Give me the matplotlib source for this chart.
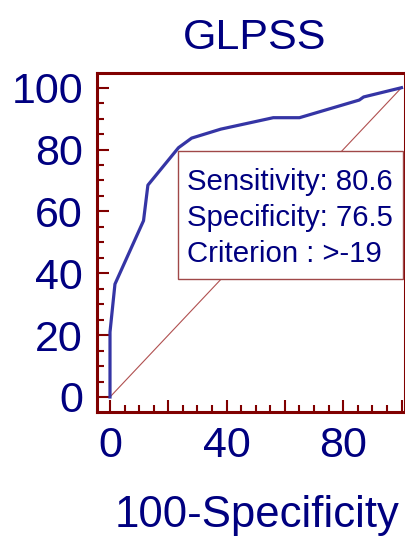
import matplotlib
matplotlib.use("Agg")
import matplotlib.pyplot as plt
from matplotlib.patches import Rectangle
from matplotlib.ticker import FixedLocator

# ROC curve (100-Specificity, Sensitivity)
fpr = [0, 0, 1.7, 11.5, 13, 23.5, 28, 38, 56, 65, 85.5, 87, 100]
tpr = [0, 21, 36.5, 57, 68.5, 80.6, 83.7, 86.6, 90.3, 90.3, 96, 97, 100]
diag = [0, 100]
box_lines = ["Sensitivity: 80.6", "Specificity: 76.5", "Criterion : >-19"]
xtick_labels = [0, 40, 80]
ytick_labels = [0, 20, 40, 60, 80, 100]

plt.rcParams['font.family'] = ['Liberation Sans', 'DejaVu Sans']
navy = "#000080"
maroon = "#800000"

fig = plt.figure(figsize=(4.06, 5.38), dpi=100)
ax = fig.add_axes([97/406, 126/538, 308/406, 339/538])

ax.plot(diag, diag, color="#b05050", lw=0.8, zorder=1)
ax.plot(fpr, tpr, color="#3535a5", lw=2.3, zorder=3, solid_joinstyle="round")

ax.set_xlim(-4.46, 101.2)
ax.set_ylim(-4.85, 104.75)

for s in ax.spines.values():
    s.set_color(maroon)
    s.set_linewidth(2.2)

ax.xaxis.set_major_locator(FixedLocator(xtick_labels))
ax.yaxis.set_major_locator(FixedLocator(ytick_labels))
ax.xaxis.set_minor_locator(FixedLocator([v for v in range(0, 101, 5) if v not in xtick_labels]))
ax.yaxis.set_minor_locator(FixedLocator([v for v in range(0, 101, 5) if v not in ytick_labels]))

ax.tick_params(which="both", direction="in", colors=maroon, labelcolor=navy,
               labelsize=31, width=1.5, top=False, right=False)
ax.tick_params(which="major", length=8.5)
ax.tick_params(which="minor", length=5)
ax.tick_params(axis="y", pad=10)
ax.tick_params(axis="x", pad=10)
# unlabeled x ticks at 20, 60, 100 are full length
for t, v in zip(ax.xaxis.get_minor_ticks(), ax.xaxis.get_minorticklocs()):
    if v % 20 == 0:
        t.tick1line.set_markersize(8.5)

ax.set_title("GLPSS", color=navy, fontsize=31, pad=17.5, x=0.512)
ax.set_xlabel("100-Specificity", color=navy, fontsize=31.5)
ax.xaxis.set_label_coords(0.521, -0.245)

# info box
ax.add_patch(Rectangle((0.264, 0.3914), 0.73, 0.3786, transform=ax.transAxes,
                       facecolor="white", edgecolor="#a04848", lw=1.0, zorder=4))
for line, yy in zip(box_lines, [0.6549, 0.5487, 0.4425]):
    ax.text(0.2912, yy, line, transform=ax.transAxes, ha="left", va="baseline",
            fontsize=21.2, color=navy, zorder=5)

fig.savefig("out.png", dpi=100)
